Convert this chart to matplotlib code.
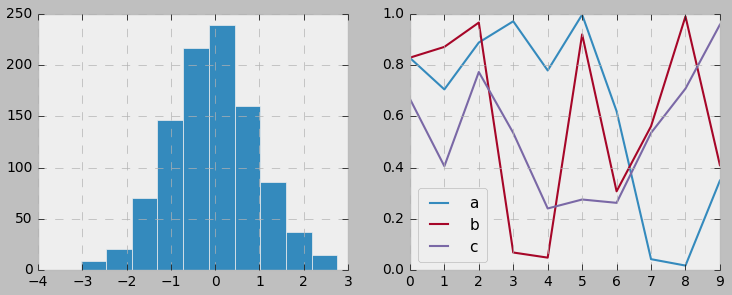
import numpy as np
import matplotlib
matplotlib.use("Agg")
import matplotlib.pyplot as plt

plt.style.use(['classic', 'bmh'])
plt.rcParams['font.family'] = ['DejaVu Sans']

# Histogram data
bin_edges = [-3.04, -2.46, -1.88, -1.31, -0.73, -0.14, 0.44, 1.01, 1.59, 2.18, 2.74]
bin_counts = [9, 20, 70, 146, 217, 239, 160, 86, 37, 15]

# Line data
x_vals = list(range(10))
series_a = [0.828, 0.705, 0.888, 0.971, 0.779, 0.997, 0.620, 0.042, 0.017, 0.349]
series_b = [0.829, 0.871, 0.966, 0.068, 0.048, 0.920, 0.307, 0.561, 0.990, 0.409]
series_c = [0.668, 0.405, 0.773, 0.535, 0.240, 0.275, 0.262, 0.535, 0.708, 0.958]
labels = ['a', 'b', 'c']

fig = plt.figure(figsize=(7.32, 2.95), dpi=100)
fig.patch.set_facecolor('#bfbfbf')
ax1 = fig.add_axes([0.052, 0.085, 0.4235, 0.868])
ax2 = fig.add_axes([0.560, 0.085, 0.4235, 0.868])

ax1.hist(bin_edges[:-1], bins=bin_edges, weights=bin_counts)
ax1.set_xlim(-4, 3)
ax1.set_ylim(0, 250)
ax1.set_yticks([0, 50, 100, 150, 200, 250])

for ys, lab in zip([series_a, series_b, series_c], labels):
    ax2.plot(x_vals, ys, label=lab, linewidth=1.5)
ax2.set_xlim(0, 9)
ax2.set_ylim(0, 1)
ax2.legend(loc='lower left', fontsize=11, handlelength=1.8, handletextpad=1.1,
           labelspacing=0.45, borderpad=0.5, fancybox=True)

for ax in (ax1, ax2):
    ax.tick_params(labelsize=10)

fig.savefig('out.png', dpi=100, facecolor=fig.get_facecolor())
